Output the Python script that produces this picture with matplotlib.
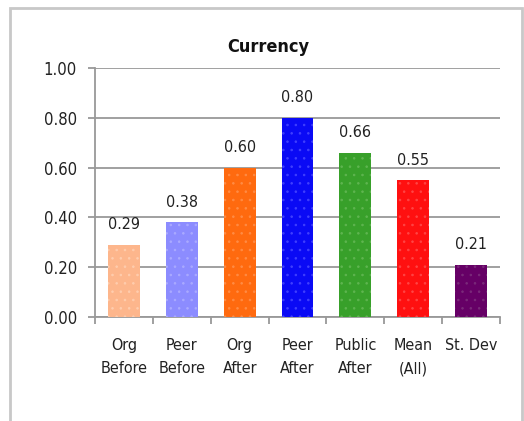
import matplotlib.pyplot as plt
from matplotlib.patches import Rectangle

# data
categories = ["Org\nBefore", "Peer\nBefore", "Org\nAfter", "Peer\nAfter",
              "Public\nAfter", "Mean\n(All)", "St. Dev"]
values = [0.29, 0.38, 0.60, 0.80, 0.66, 0.55, 0.21]
colors = ["#FDB68C", "#8C8CFF", "#FF6A0F", "#0A0AF5", "#38A02A", "#FF1010", "#660066"]
dots = ["#FFCDAE", "#AAAAFF", "#FF8C45", "#4040FF", "#5FB550", "#FF4545", "#7A2A7A"]

plt.rcParams['font.family'] = ['DejaVu Sans']
plt.rcParams['font.stretch'] = 'condensed'
plt.rcParams['hatch.linewidth'] = 0.6

fig = plt.figure(figsize=(5.24, 4.21), dpi=100)

# outer frame
fig.patches.append(Rectangle((10 / 524, -0.05), 512 / 524, 1 - 8 / 421 + 0.05,
                             transform=fig.transFigure, fill=False,
                             edgecolor="#c8c8c8", linewidth=2))

ax = fig.add_axes([95 / 524, 1 - 317 / 421, 405 / 524, 249 / 421])

x = range(len(values))
bars = ax.bar(x, values, width=0.55, color=colors, zorder=3)
for b, dc in zip(bars, dots):
    b.set_hatch("..")
    b.set_edgecolor(dc)
    b.set_linewidth(0)

for i, v in enumerate(values):
    ax.text(i, v + 0.05, f"{v:.2f}", ha="center", va="bottom", fontsize=11.5, color="#222222")

ax.set_xlim(-0.5, len(values) - 0.5)
ax.set_ylim(0, 1.0)
ax.set_yticks([0, 0.2, 0.4, 0.6, 0.8, 1.0])
ax.set_yticklabels([f"{t:.2f}" for t in [0, 0.2, 0.4, 0.6, 0.8, 1.0]], fontsize=12, color="#222222")
ax.yaxis.grid(True, color="#999999", linewidth=1.3, zorder=0)
ax.set_axisbelow(True)

ax.set_xticks([i - 0.5 for i in range(len(values) + 1)])
ax.set_xticklabels([])
ax.set_xticks(list(x), minor=True)
ax.set_xticklabels(categories, minor=True, fontsize=11.5, color="#222222", linespacing=1.7)
ax.tick_params(axis="x", which="minor", length=0, pad=15)
ax.tick_params(axis="x", which="major", length=5, color="#999999", width=1.3)
ax.tick_params(axis="y", length=5, color="#999999", width=1.3, pad=8)

for s in ["top", "right"]:
    ax.spines[s].set_visible(False)
for s in ["left", "bottom"]:
    ax.spines[s].set_color("#999999")
    ax.spines[s].set_linewidth(1.3)

fig.text(268 / 524, 1 - 47 / 421, "Currency", ha="center", va="center",
         fontsize=13, fontweight="bold", color="#111111")

fig.savefig("out.png", dpi=100)
